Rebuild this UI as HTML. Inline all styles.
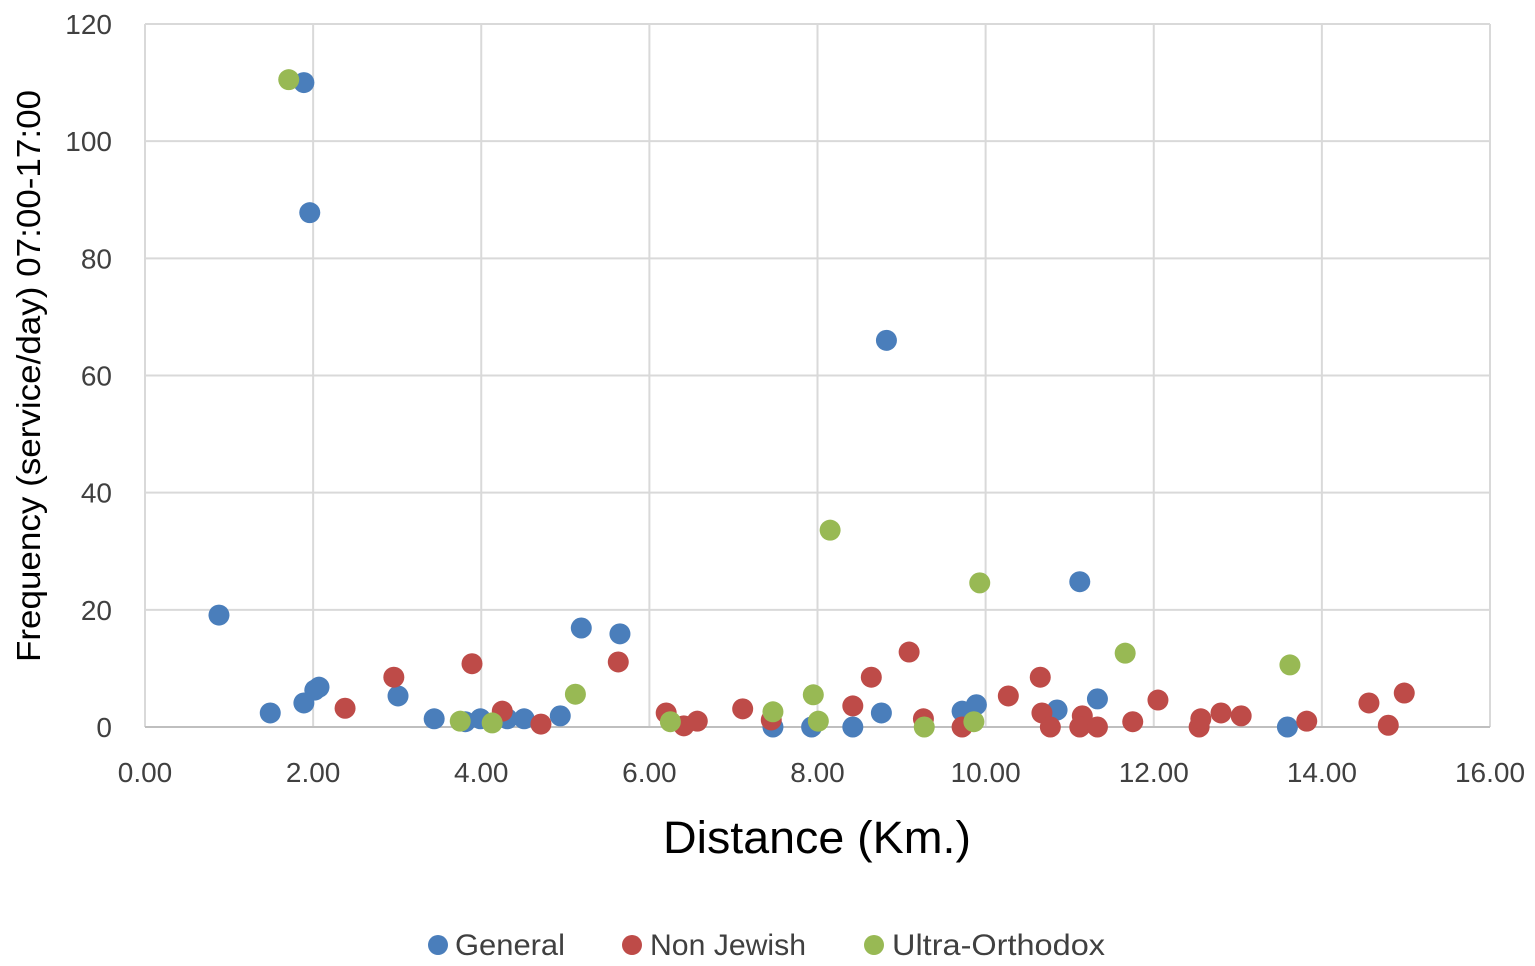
<!DOCTYPE html>
<html><head><meta charset="utf-8"><style>
html,body{margin:0;padding:0;background:#fff;}
svg{display:block;font-family:"Liberation Sans",sans-serif;}
</style></head><body>
<svg id="chart" width="1535" height="966" xmlns="http://www.w3.org/2000/svg">
<g id="grid"></g>
<g id="ticks"></g>
<g id="marks"></g>
<text transform="translate(40,376) rotate(-90)" text-anchor="middle" font-size="33" textLength="572" lengthAdjust="spacingAndGlyphs" fill="#000">Frequency (service/day) 07:00-17:00</text>
<text x="817" y="853" text-anchor="middle" font-size="45" textLength="308" lengthAdjust="spacingAndGlyphs" fill="#000">Distance (Km.)</text>
<g font-size="30" fill="#404040">
<g><circle cx="438" cy="945" r="10" fill="#4a7ebb"/><text x="455" y="955" textLength="110" lengthAdjust="spacingAndGlyphs">General</text></g>
<g><circle cx="632" cy="945" r="10" fill="#be4b48"/><text x="650" y="955" textLength="156" lengthAdjust="spacingAndGlyphs">Non Jewish</text></g>
<g><circle cx="874" cy="945" r="10" fill="#98b954"/><text x="892" y="955" textLength="213" lengthAdjust="spacingAndGlyphs">Ultra-Orthodox</text></g>
</g>
</svg>
<script>
const xTicks=[0,2,4,6,8,10,12,14,16];
const yTicks=[0,20,40,60,80,100,120];
const generalX=[0.88,1.49,1.89,1.96,1.89,2.02,2.07,3.01,3.44,3.81,3.99,4.31,4.51,4.94,5.19,5.65,7.47,7.93,8.42,8.76,8.82,9.72,9.89,10.85,11.12,11.33,13.59];
const generalY=[19.1,2.4,110,87.8,4.1,6.3,6.8,5.3,1.4,0.9,1.4,1.4,1.4,1.9,16.9,15.9,0,0,0,2.4,66,2.7,3.8,2.9,24.8,4.8,0];
const nonJewishX=[2.38,2.96,3.89,4.25,4.71,5.63,6.20,6.41,6.57,7.11,7.45,8.42,8.64,9.09,9.26,9.72,10.27,10.65,10.67,10.77,11.15,11.12,11.33,11.75,12.05,12.54,12.56,12.80,13.04,13.82,14.56,14.79,14.98];
const nonJewishY=[3.2,8.5,10.8,2.7,0.5,11.1,2.4,0.2,1.0,3.1,1.2,3.6,8.5,12.8,1.4,0,5.3,8.5,2.4,0,1.9,0,0,0.9,4.6,0,1.4,2.4,1.9,1.0,4.1,0.3,5.8];
const ultraX=[1.71,3.75,4.13,5.12,6.25,7.47,7.95,8.01,8.15,9.27,9.86,9.93,11.66,13.62];
const ultraY=[110.5,1.0,0.7,5.6,0.9,2.6,5.5,1.0,33.6,0,0.9,24.6,12.6,10.6];
const L=145,R=1490,T=24,B=727;
const sx=v=>L+(v-0)/(16-0)*(R-L);
const sy=v=>B-(v-0)/(120-0)*(B-T);
const NS="http://www.w3.org/2000/svg";
const grid=document.getElementById('grid'),ticks=document.getElementById('ticks'),marks=document.getElementById('marks');
function mk(tag,attrs,parent){const e=document.createElementNS(NS,tag);for(const k in attrs)e.setAttribute(k,attrs[k]);parent.appendChild(e);return e;}
xTicks.forEach(t=>{
  const ln=mk('line',{x1:sx(t),x2:sx(t),y1:T,y2:B,stroke:'#d9d9d9','stroke-width':2},grid);
  
  
  const tx=mk('text',{x:sx(t),y:B+55,'text-anchor':'middle','font-size':28,fill:'#404040'},ticks);
  tx.textContent=t.toFixed(2);
  
  
});
yTicks.forEach(t=>{
  const ln=mk('line',{x1:L,x2:R,y1:sy(t),y2:sy(t),stroke:t===0?'#bfbfbf':'#d9d9d9','stroke-width':2},grid);
  
  
  const tx=mk('text',{x:L-33,y:sy(t)+10,'text-anchor':'end','font-size':28,fill:'#404040'},ticks);
  tx.textContent=t;
  
  
});
function series(xs,ys,color,name){
  xs.forEach((x,i)=>{
    const c=mk('circle',{cx:sx(x),cy:sy(ys[i]),r:10.5,fill:color},marks);
    
    
  });
}
series(generalX,generalY,'#4a7ebb','point-general');
series(nonJewishX,nonJewishY,'#be4b48','point-non-jewish');
series(ultraX,ultraY,'#98b954','point-ultra-orthodox');
</script>
</body></html>
